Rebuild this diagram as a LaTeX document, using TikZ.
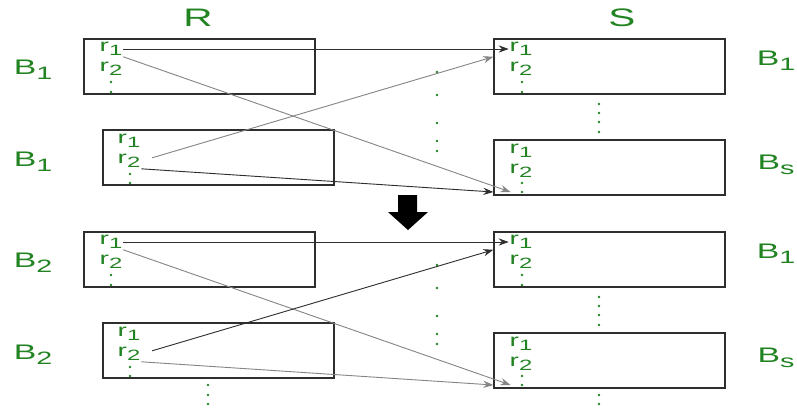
\documentclass[tikz,border=0pt]{standalone}
\usepackage{fontspec}
\newfontfamily\widesf[FakeStretch=1.6]{Liberation Sans}
\usetikzlibrary{arrows.meta, positioning}
\usepackage{xcolor}
\definecolor{relgreen}{HTML}{228322}
\definecolor{boxgray}{HTML}{2E2E2E}
\definecolor{linegray}{HTML}{858585}

% letter with a lowered index
\newcommand{\lowsub}[2]{#1\raisebox{-0.45ex}{\scalebox{0.85}{#2}}}

\begin{document}
\begin{tikzpicture}[x=0.025cm, y=-0.025cm,
        blk/.style={draw=boxgray, line width=0.9pt, minimum width=5.775cm, minimum height=1.375cm, inner sep=0pt},
        head/.style={text=relgreen, font=\widesf\fontsize{18}{20}\selectfont, inner sep=0pt},
        lbl/.style={text=relgreen, font=\widesf\fontsize{15}{17}\selectfont, inner sep=0pt},
        rec/.style={text=relgreen, font=\widesf\fontsize{12.5}{14}\selectfont, inner sep=0.5pt},
        gdot/.style={circle, fill=relgreen, inner sep=0pt, minimum size=1.9pt},
        arr/.style={-{Stealth[length=2.5mm, width=1.8mm]}, line width=0.65pt}
    ]
    \useasboundingbox (0,0) rectangle (797,408);

    % RELATION NAMES
    \node[head] (relR) at (198,18) {R};
    \node[head] (relS) at (622,18) {S};

    % TWO PASSES, ONE BLOCK OF R EACH
    \foreach \oy/\k/\ca/\cb in {0/1/boxgray/linegray, 193/2/linegray/boxgray} {
    \begin{scope}[shift={(0,\oy)}]
        % blocks of R
        \node[blk] (Ra\k) at (199.5,66.5) {};
        \node[blk] (Rb\k) at (218.5,157.5) {};
        \node[rec] (Ra\k r1) at (111,49) {\lowsub{r}{1}};
        \node[rec] (Ra\k r2) at (111,69) {\lowsub{r}{2}};
        \node[gdot] at (111,82) {};
        \node[gdot] at (111,92) {};
        \node[rec] (Rb\k r1) at (129,141) {\lowsub{r}{1}};
        \node[rec] (Rb\k r2) at (129,161) {\lowsub{r}{2}};
        \node[gdot] at (130,174) {};
        \node[gdot] at (130,183) {};
        \node[lbl] (LRa\k) at (33,70) {\lowsub{B}{\k}};
        \node[lbl] (LRb\k) at (33,162) {\lowsub{B}{\k}};

        % blocks of S
        \node[blk] (Sa\k) at (609.5,66.5) {};
        \node[blk] (Sb\k) at (609.5,167.5) {};
        \node[rec] (Sa\k r1) at (521,49) {\lowsub{r}{1}};
        \node[rec] (Sa\k r2) at (521,69) {\lowsub{r}{2}};
        \node[gdot] at (522,82) {};
        \node[gdot] at (522,92) {};
        \node[rec] (Sb\k r1) at (521,151) {\lowsub{r}{1}};
        \node[rec] (Sb\k r2) at (521,171) {\lowsub{r}{2}};
        \node[gdot] (Sb\k d1) at (522,183) {};
        \node[gdot] (Sb\k d2) at (522,192) {};
        \node[lbl] (LSa\k) at (776,61) {\lowsub{B}{1}};
        \node[lbl] (LSb\k) at (776,165) {\lowsub{B}{s}};

        % dotted gaps
        \foreach \y in {72,95,123,141,151} \node[gdot] at (437,\y) {};
        \foreach \y in {104,113,122,132} \node[gdot] at (599,\y) {};

        % CONNECTORS
        \draw[arr, boxgray] (Ra\k r1.east) -- (Sa\k r1.west);
        \draw[arr, linegray] (Ra\k r1.south east) -- ([xshift=-7pt]Sb\k d2.west);
        \draw[arr, \cb, shorten <=8pt] (Rb\k r2.east) -- (Sa\k.west |- Sa\k r1.south);
        \draw[arr, \ca] (Rb\k r2.south east) -- (Sb\k.west |- Sb\k d2);
    \end{scope}
    }

    % more blocks follow
    \foreach \y in {385,395,404} \node[gdot] at (208,\y) {};
    \foreach \y in {395,404} \node[gdot] at (599,\y) {};

    % NEXT PASS
    \fill[black] (398,195) -- (417,195) -- (417,212) -- (428,212) -- (408,230)
        -- (388,212) -- (398,212) -- cycle;
\end{tikzpicture}
\end{document}
